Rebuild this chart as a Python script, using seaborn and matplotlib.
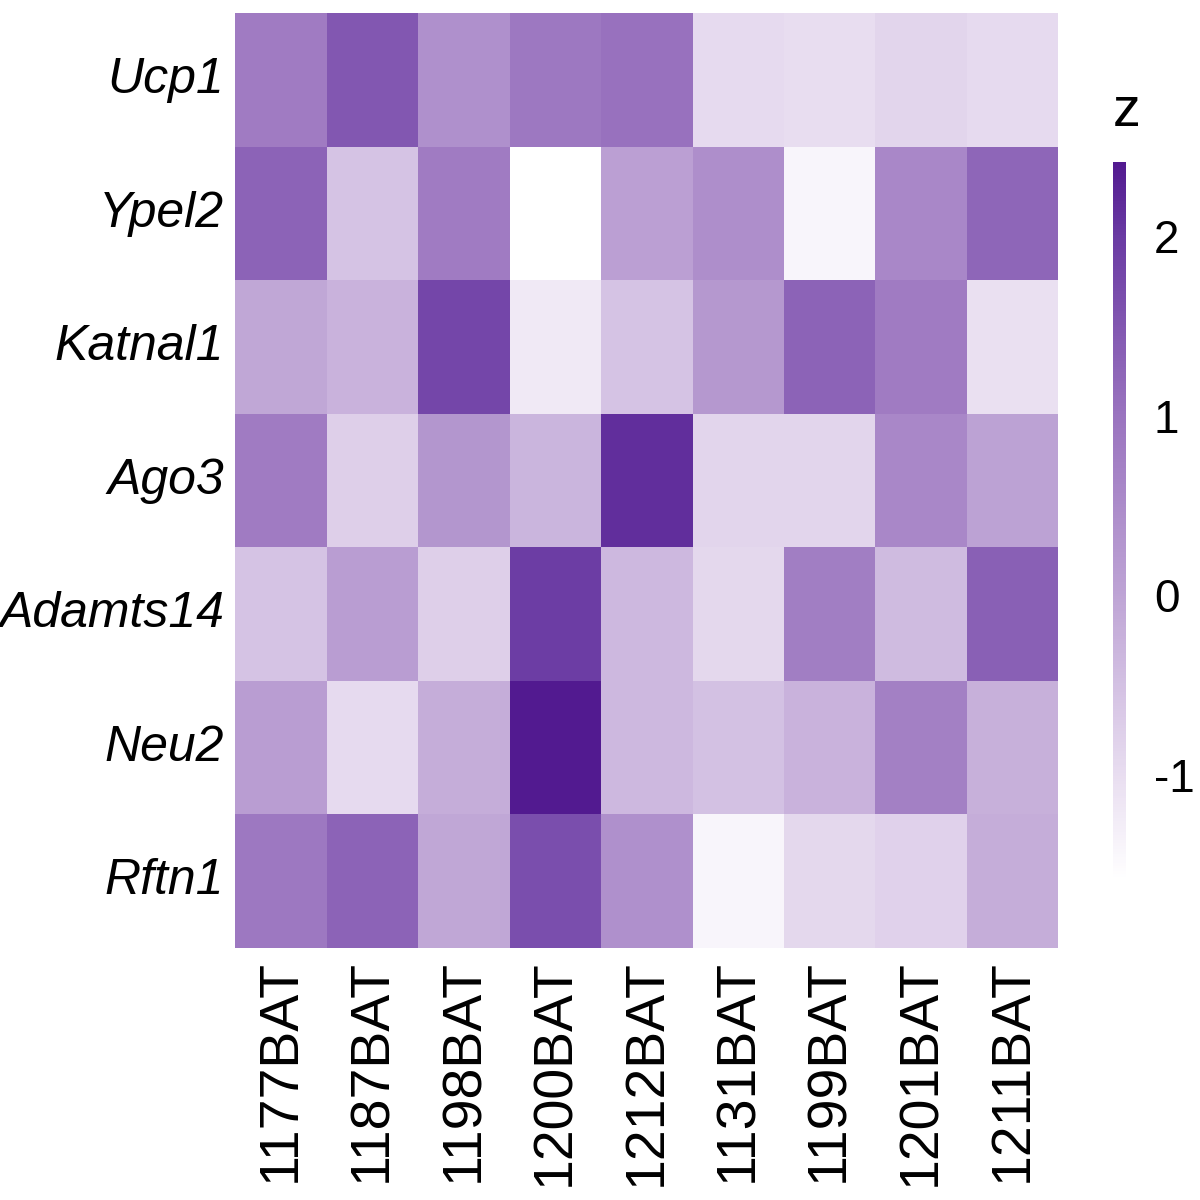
import numpy as np
import pandas as pd
import seaborn as sns
import matplotlib.pyplot as plt
from matplotlib.colors import LinearSegmentedColormap

sns.set_theme(style="white")
plt.rcParams["font.family"] = ["Liberation Sans", "DejaVu Sans"]
plt.rcParams["text.color"] = "black"
plt.rcParams["xtick.color"] = "black"
plt.rcParams["ytick.color"] = "black"

genes = ["Ucp1", "Ypel2", "Katnal1", "Ago3", "Adamts14", "Neu2", "Rftn1"]
samples = ["1177BAT", "1187BAT", "1198BAT", "1200BAT", "1212BAT",
           "1131BAT", "1199BAT", "1201BAT", "1211BAT"]

ucp1 = [0.85, 1.50, 0.40, 0.90, 1.05, -0.95, -1.00, -0.85, -0.95]
ypel2 = [1.30, -0.55, 0.85, -1.58, 0.10, 0.45, -1.40, 0.60, 1.25]
katnal1 = [-0.05, -0.25, 1.80, -1.20, -0.55, 0.25, 1.30, 0.85, -1.05]
ago3 = [0.85, -0.75, 0.30, -0.30, 2.15, -0.85, -0.85, 0.60, 0.05]
adamts14 = [-0.55, 0.15, -0.75, 1.95, -0.35, -0.90, 0.80, -0.40, 1.35]
neu2 = [0.15, -0.95, -0.15, 2.41, -0.35, -0.50, -0.25, 0.75, -0.20]
rftn1 = [0.90, 1.30, -0.05, 1.65, 0.40, -1.40, -0.90, -0.80, -0.15]

z = pd.DataFrame([ucp1, ypel2, katnal1, ago3, adamts14, neu2, rftn1],
                 index=genes, columns=samples)

vmin, vmax = -1.58, 2.41
def frac(v):
    return (v - vmin) / (vmax - vmin)

cmap = LinearSegmentedColormap.from_list("purp", [
    (0.0, "#FFFFFF"),
    (frac(-1), "#E8DDF0"),
    (frac(0), "#BEA4D5"),
    (frac(1), "#9A74BF"),
    (frac(2), "#6A3BA3"),
    (1.0, "#521A90"),
])

fig = plt.figure(figsize=(12, 12), dpi=100)
ax = fig.add_axes([0.196, 0.21, 0.686, 0.779])
cax = fig.add_axes([0.9275, 0.267, 0.011, 0.598])

sns.heatmap(z, ax=ax, cmap=cmap, vmin=vmin, vmax=vmax, cbar_ax=cax,
            cbar_kws={"ticks": [-1, 0, 1, 2]})

ax.tick_params(axis="both", length=0, pad=8)
ax.set_yticklabels(genes, rotation=0, fontsize=36, style="italic")
ax.set_xticklabels(samples, rotation=90, fontsize=40)
ax.set_xlabel("")
ax.set_ylabel("")

cax.yaxis.set_ticks_position("both")
cax.tick_params(direction="in", color="white", length=3, width=1.5,
                labelsize=33, pad=20)
cax.set_yticklabels(["-1", "0", "1", "2"])
for s in cax.spines.values():
    s.set_visible(False)
cax.set_title("z", fontsize=40, pad=26, loc="left")

fig.savefig("out.png", dpi=100)
